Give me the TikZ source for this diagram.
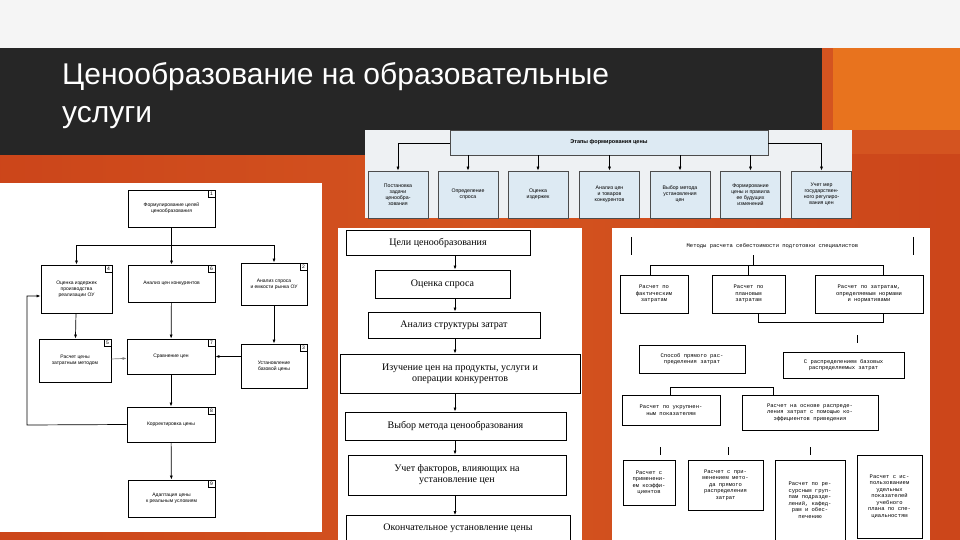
\documentclass[tikz,border=0pt]{standalone}
\usepackage{fontspec}
\setmainfont{Liberation Sans}
\setmonofont{Liberation Mono}
\newfontfamily\serifx{Liberation Serif}
\usetikzlibrary{arrows.meta}
\definecolor{bgor}{HTML}{D45420}
\definecolor{dark}{HTML}{262626}
\definecolor{orsq}{HTML}{E8731E}
\definecolor{lblue}{HTML}{DDEAF3}
\definecolor{panelg}{HTML}{EEF1F3}
\tikzset{
 lb/.style={draw,line width=0.8pt,fill=white,align=center,font=\fontsize{5}{6}\selectfont,inner sep=1pt},
 num/.style={draw,line width=0.6pt,fill=white,font=\fontsize{5}{5}\selectfont,inner sep=1pt,minimum size=7pt,anchor=north east},
 ar/.style={-{Latex[length=4pt,width=3pt]},line width=0.7pt},
 mb/.style={draw,line width=0.8pt,fill=white,align=center,font=\serifx\fontsize{10}{11}\selectfont,inner sep=1pt},
 bb/.style={draw=black!70,line width=0.7pt,fill=lblue,align=center,font=\fontsize{5.2}{6}\selectfont,inner sep=1pt},
 rb/.style={draw,line width=0.7pt,fill=white,align=center,font=\ttfamily\fontsize{5.5}{6.5}\selectfont,inner sep=1pt},
}
\begin{document}
\begin{tikzpicture}[x=1pt,y=-1pt]
\useasboundingbox (0,0) rectangle (960,540);
\fill[bgor] (0,0) rectangle (960,540);
\shade[left color=bgor!80!red!90!black, right color=bgor, opacity=0.6] (0,155) rectangle (480,540);
\shade[left color=bgor, right color=bgor!80!red!90!black, opacity=0.6] (480,155) rectangle (960,540);
\fill[white!92!gray] (0,0) rectangle (960,48);
\fill[dark] (0,48) rectangle (822,155);
\fill[orsq] (833,48) rectangle (960,130);
\node[anchor=north west,text=white,align=left,font=\fontsize{30}{38}\selectfont,inner sep=0] (title) at (62,62) {Ценообразование на образовательные\\услуги};
% ===== left panel
\fill[white] (0,183) rectangle (322,532);
\newcommand\lbox[6]{\node[lb,minimum width=#3,minimum height=#4] (#1) at (#2) {#5};\node[num] (n#1) at (#1.north east) {#6};}
\lbox{b1}{171.5,208.5}{87pt}{37pt}{Формулирование целей\\ценообразования}{1}
\lbox{b4}{76.5,289}{71pt}{48pt}{Оценка издержек\\производства\\реализации ОУ}{4}
\lbox{b6}{171.5,283.5}{87pt}{37pt}{Анализ цен конкурентов}{6}
\lbox{b2}{274,284}{66pt}{42pt}{Анализ спроса\\и емкости рынка ОУ}{2}
\lbox{b5}{75,360.5}{72pt}{43pt}{Расчет цены\\затратным методом}{5}
\lbox{b7}{171,356.5}{88pt}{35pt}{Сравнение цен}{7}
\lbox{b3}{274,366}{66pt}{44pt}{Установление\\базовой цены}{3}
\lbox{b8}{171,424.5}{88pt}{35pt}{Корректировка цены}{8}
\lbox{b9}{171.5,498.5}{87pt}{37pt}{Адаптация цены\\к реальным условиям}{9}
\coordinate (br) at (171.5,245);
\draw[line width=0.7pt] (b1.south) -- (br);
\draw[ar] (br) -| (b4.north);
\draw[ar] (br) -| (b2.north);
\draw[ar] (br) -- (b6.north);
\draw[ar] (b4) -- (b5);
\draw[ar] (b2) -- (b3);
\draw[ar] (b6) -- (b7);
\draw[ar,draw=black!50] (b5) -- (b7);
\draw[ar] (b3.west |- b7.east) -- (b7.east);
\draw[ar] (b7) -- (b8);
\draw[ar] (b8) -- (b9);
\coordinate (fb) at (27,425);
\draw[ar] (b8.west) -- (fb) |- (b4.west |- 0,296);
% ===== top panel
\fill[panelg] (365,130) rectangle (852,218);
\node[bb,minimum width=318pt,minimum height=25pt,font=\bfseries\fontsize{5.5}{6}\selectfont] (h) at (609,142.5) {Этапы формирования цены};
\newcommand\tb[3]{\node[bb,minimum width=60pt,minimum height=47pt] (#1) at (#2,194.5) {#3};}
\tb{t1}{398}{Постановка\\задачи\\ценообра-\\зования}
\tb{t2}{468}{Определение\\спроса}
\tb{t3}{538}{Оценка\\издержек}
\tb{t4}{609.5}{Анализ цен\\и товаров\\конкурентов}
\tb{t5}{680}{Выбор метода\\установления\\цен}
\tb{t6}{750.5}{Формирование\\цены и правила\\ее будущих\\изменений}
\tb{t7}{821.5}{Учет мер\\государствен-\\ного регулиро-\\вания цен}
\draw[ar] (h.west |- 0,143) -| (t1.north);
\draw[ar] (h.east |- 0,143) -| (t7.north);
\foreach \t in {t2,t3,t4,t5,t6} \draw[ar] (h.south -| \t.north) -- (\t.north);
% ===== middle panel
\fill[white] (338,228) rectangle (582,540);
\node[mb,minimum width=184pt,minimum height=25pt] (m1) at (438,242.5) {Цели ценообразования};
\node[mb,minimum width=135pt,minimum height=28pt] (m2) at (442.5,284) {Оценка спроса};
\node[mb,minimum width=172pt,minimum height=26pt] (m3) at (454,325) {Анализ структуры затрат};
\node[mb,minimum width=240pt,minimum height=39pt] (m4) at (460,373.5) {Изучение цен на продукты, услуги и\\операции конкурентов};
\node[mb,minimum width=221pt,minimum height=28pt] (m5) at (455.5,426) {Выбор метода ценообразования};
\node[mb,minimum width=218pt,minimum height=40pt] (m6) at (457,475) {Учет факторов, влияющих на\\установление цен};
\node[mb,minimum width=224pt,minimum height=25pt] (m7) at (458,528) {Окончательное установление цены};
\foreach \a/\b in {m1/m2,m2/m3,m3/m4,m4/m5,m5/m6,m6/m7}
 \draw[ar] (\a.south -| 455,0) -- (\b.north -| 455,0);
% ===== right panel
\fill[white] (612,228) rectangle (930,540);
\node[align=center,font=\ttfamily\fontsize{5.5}{6.5}\selectfont,minimum width=281pt,minimum height=18pt,inner sep=0] (r0) at (772.5,246) {Методы расчета себестоимости подготовки специалистов};
\draw[line width=0.7pt] (r0.north west) -- (r0.south west) (r0.north east) -- (r0.south east);
\node[rb,minimum width=68pt,minimum height=38pt] (r11) at (654,294) {Расчет по\\фактическим\\затратам};
\node[rb,minimum width=73pt,minimum height=38pt] (r12) at (748.5,294) {Расчет по\\плановым\\затратам};
\node[rb,minimum width=108pt,minimum height=38pt] (r13) at (869,294) {Расчет по затратам,\\определяемым нормами\\и нормативами};
\coordinate (j1) at (753,265);
\draw[line width=0.6pt] (r0.south -| j1) -- (j1) (650,265) -- (883,265);
\draw[line width=0.6pt] (650,265) -- (r11.north -| 650,0) (r12.north |- 0,265) -- (r12.north) (883,265) -- (r13.north -| 883,0);
\draw[line width=0.6pt] (r12.south -| 758,0) -- (758,322) -- (883,322) -- (r13.south -| 883,0);
\coordinate (tk1) at (857,335);
\draw[line width=0.6pt] (tk1) -- (857,343);
\node[rb,minimum width=106pt,minimum height=28pt] (r21) at (692,359) {Способ прямого рас-\\пределения затрат};
\node[rb,minimum width=121pt,minimum height=26pt] (r22) at (843.5,365) {С распределением базовых\\распределяемых затрат};
\coordinate (j2) at (670,387);
\draw[line width=0.6pt] (670,397) -- (j2) -- (773,387) -- (773,395);
\node[rb,minimum width=98pt,minimum height=30pt] (r31) at (671,410) {Расчет по укрупнен-\\ным показателям};
\node[rb,minimum width=136pt,minimum height=35pt] (r32) at (810,412.5) {Расчет на основе распреде-\\ления затрат с помощью ко-\\эффициентов приведения};
\foreach \x in {660,728,810} \draw[line width=0.6pt] (\x,447) -- (\x,455);
\node[rb,minimum width=52pt,minimum height=45pt] (r41) at (649,482.5) {Расчет с\\применени-\\ем коэффи-\\циентов};
\node[rb,minimum width=75pt,minimum height=50pt] (r42) at (725.5,485) {Расчет с при-\\менением мето-\\да прямого\\распределения\\затрат};
\node[rb,minimum width=70pt,minimum height=80pt] (r43) at (810,500) {Расчет по ре-\\сурсным груп-\\пам подразде-\\лений, кафед-\\рам и обес-\\печению};
\node[rb,minimum width=65pt,minimum height=83pt] (r44) at (889.5,496.5) {Расчет с ис-\\пользованием\\удельных\\показателей\\учебного\\плана по спе-\\циальностям};
\end{tikzpicture}
\end{document}
